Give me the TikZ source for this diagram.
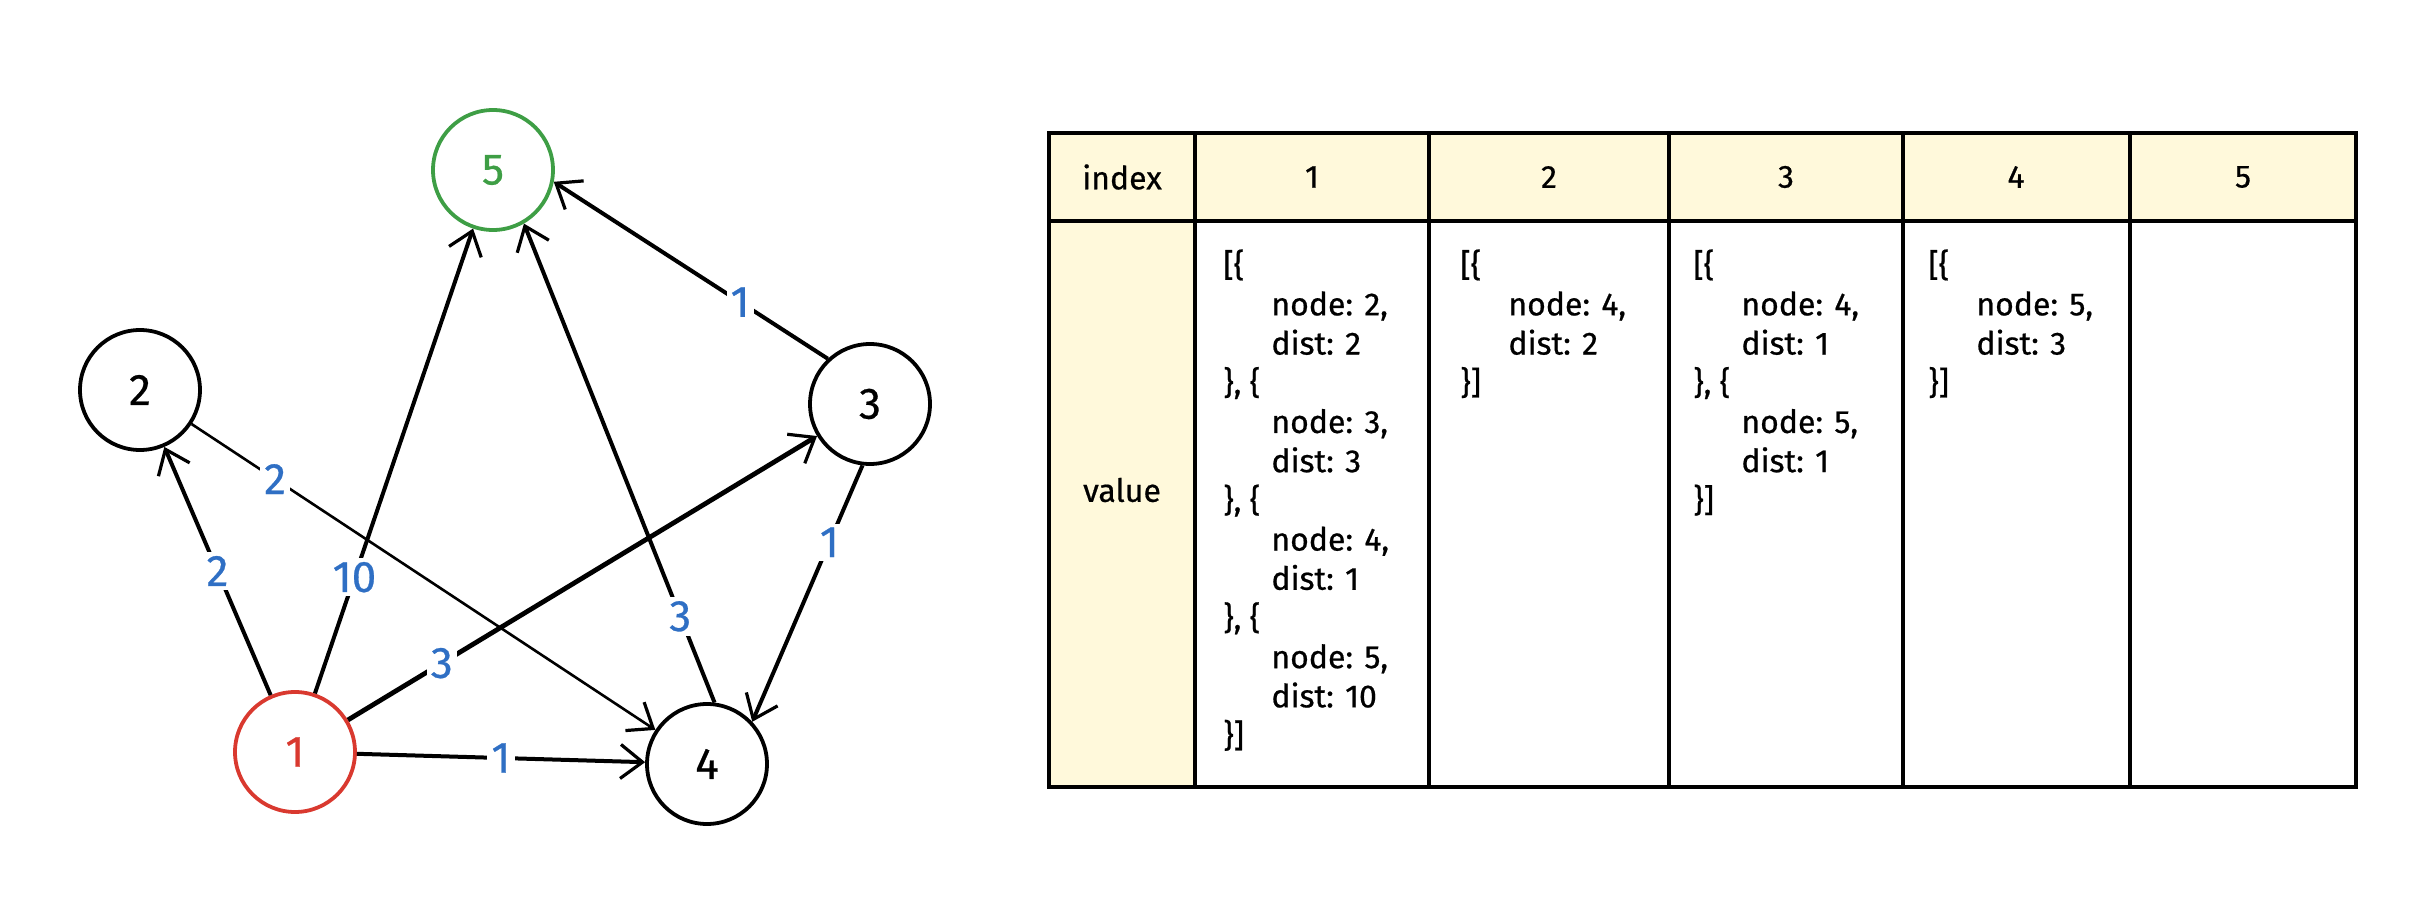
\documentclass[tikz,border=0pt]{standalone}
\usepackage{fontspec}
\setmainfont{Fira Sans}[FakeBold=0.6]
\usetikzlibrary{arrows.meta, positioning}

\definecolor{hdrfill}{HTML}{FFF9DB}
\definecolor{srcred}{HTML}{D9392F}
\definecolor{dstgreen}{HTML}{3E9E45}
\definecolor{wtblue}{HTML}{2F6FC4}

\begin{document}
\begin{tikzpicture}[x=0.5pt, y=-0.5pt,
    vert/.style={circle, draw=black, line width=1.9pt, minimum size=60pt,
                 inner sep=0pt, font=\fontsize{22}{26}\selectfont},
    edge/.style={line width=2pt,
                 -{Straight Barb[length=11pt, width=17pt, line width=1.6pt]}},
    wt/.style={fill=white, text=wtblue, inner sep=2pt,
               font=\fontsize{22}{26}\selectfont},
    head/.style={font=\fontsize{16}{19}\selectfont},
    cell/.style={font=\fontsize{16}{19.6}\selectfont, align=left,
                 anchor=north west, inner sep=0pt},
    grid/.style={line width=1.8pt}
]
    \useasboundingbox (0,0) rectangle (2436,914);

    \node[vert, draw=dstgreen, text=dstgreen] (n5) at (493,170) {5};
    \node[vert] (n2) at (140,390) {2};
    \node[vert] (n3) at (870,404) {3};
    \node[vert, draw=srcred, text=srcred] (n1) at (295,752) {1};
    \node[vert] (n4) at (707,764) {4};

    \draw[edge] (n1) -- node[wt, pos=0.5]{2} (n2);
    \draw[edge] (n1) -- node[wt, pos=0.25]{10} (n5);
    \draw[edge, line width=2.4pt] (n1) -- node[wt, pos=0.2]{3} (n3);
    \draw[edge] (n1) -- node[wt, pos=0.5]{1} (n4);
    \draw[edge, line width=1.3pt] (n2) -- node[wt, pos=0.18]{2} (n4);
    \draw[edge] (n3.133) -- node[wt, pos=0.32]{1} (n5.-11);
    \draw[edge] (n3.-97) -- node[wt, pos=0.3]{1} (n4.43);
    \draw[edge] (n4.83) -- node[wt, pos=0.18]{3} (n5.-60);

    % table
    \fill[hdrfill] (1049,133) rectangle (2356,221);
    \fill[hdrfill] (1049,221) rectangle (1195,787);
    \draw[grid] (1049,133) rectangle (2356,787);
    \draw[grid] (1049,221) -- (2356,221);
    \foreach \cx in {1195,1429,1669,1903,2130}
        \draw[grid] (\cx,133) -- (\cx,787);

    \node[head] (hidx) at (1122,177) {index};
    \foreach \i/\cx in {1/1312,2/1549,3/1786,4/2016,5/2243}
        \node[head] (h\i) at (\cx,177) {\i};
    \node[head] (hval) at (1122,490) {value};

    \node[cell] (c1) at (1223,249) {[\{\\
        \hspace*{24pt}node: 2,\\
        \hspace*{24pt}dist: 2\\
        \}, \{\\
        \hspace*{24pt}node: 3,\\
        \hspace*{24pt}dist: 3\\
        \}, \{\\
        \hspace*{24pt}node: 4,\\
        \hspace*{24pt}dist: 1\\
        \}, \{\\
        \hspace*{24pt}node: 5,\\
        \hspace*{24pt}dist: 10\\
        \}]};
    \node[cell] (c2) at (1460,249) {[\{\\
        \hspace*{24pt}node: 4,\\
        \hspace*{24pt}dist: 2\\
        \}]};
    \node[cell] (c3) at (1693,249) {[\{\\
        \hspace*{24pt}node: 4,\\
        \hspace*{24pt}dist: 1\\
        \}, \{\\
        \hspace*{24pt}node: 5,\\
        \hspace*{24pt}dist: 1\\
        \}]};
    \node[cell] (c4) at (1928,249) {[\{\\
        \hspace*{24pt}node: 5,\\
        \hspace*{24pt}dist: 3\\
        \}]};
\end{tikzpicture}
\end{document}
